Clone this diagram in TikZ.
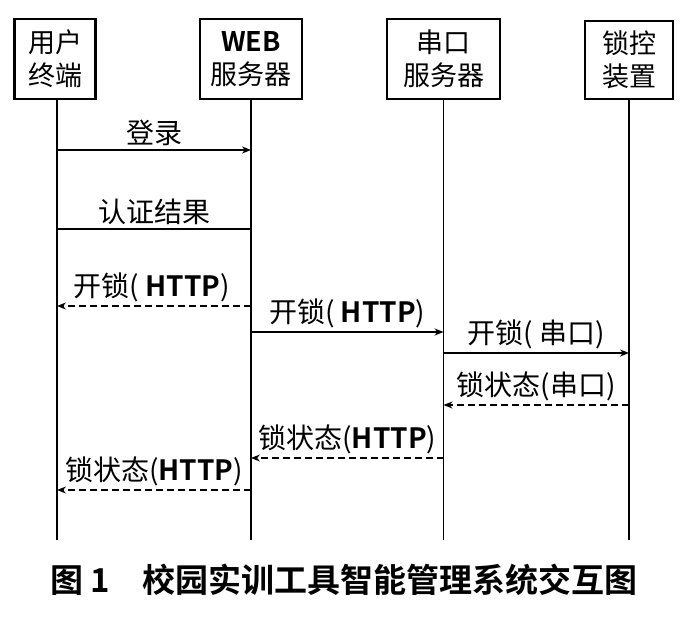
\documentclass[tikz,border=0pt]{standalone}
\usepackage{fontspec}
\setmainfont{Noto Sans CJK SC}[BoldFont={Noto Sans CJK SC Bold}]
\usetikzlibrary{arrows.meta,positioning}

\begin{document}
\begin{tikzpicture}[x=1pt, y=-1pt, >={Stealth[length=9pt,width=7pt]},
  font=\fontsize{28}{34}\selectfont,
  obj/.style={draw, line width=2.2pt, minimum height=80pt, inner sep=1pt, align=center, anchor=north,
    font=\fontsize{27}{33}\selectfont},
  life/.style={line width=2.4pt},
  msg/.style={->, line width=2.4pt},
  thinmsg/.style={->, line width=1.3pt},
  back/.style={->, dashed, dash pattern=on 7pt off 4pt},
  lbl/.style={above=3pt, inner sep=0pt}]
\useasboundingbox (0,0) rectangle (684,617);
% objects
\node[obj, minimum width=81pt] (user) at (55,18) {用户\\终端};
\node[obj, minimum width=102pt] (web) at (251,18) {\textbf{WEB}\\服务器};
\node[obj, minimum width=113pt, line width=1.6pt] (serial) at (443.5,18) {串口\\服务器};
\node[obj, minimum width=88pt, minimum height=78pt] (lock) at (629,20) {锁控\\装置};
% lifelines
\coordinate (bottom) at (0,540);
\draw[life] (user.south -| 57,0) -- (bottom -| 57,0) coordinate (userL);
\draw[life] (web.south) -- (web.south |- bottom);
\draw[line width=1.2pt] (serial.south) -- (serial.south |- bottom);
\draw[line width=2.2pt] (lock.south) -- (lock.south |- bottom);
% message rows
\coordinate (m1) at (0,150);
\coordinate (m2) at (0,229);
\coordinate (m3) at (0,306);
\coordinate (m4) at (0,332);
\coordinate (m5) at (0,353);
\coordinate (m6) at (0,405);
\coordinate (m7) at (0,458);
\coordinate (m8) at (0,490);
% messages
\draw[msg] (userL |- m1) -- node[lbl]{登录} (web.south |- m1);
\draw[line width=2.4pt] (userL |- m2) -- node[lbl]{认证结果} (web.south |- m2);
\draw[back, line width=2.4pt] (web.south |- m3) -- node[lbl, xshift=-2pt]{开锁( \textbf{HTTP})} (userL |- m3);
\draw[thinmsg] (web.south |- m4) -- node[lbl]{开锁( \textbf{HTTP})} (serial.south |- m4);
\draw[thinmsg, line width=1.5pt] (serial.south |- m5) -- node[lbl]{开锁( 串口)} (lock.south |- m5);
\draw[back, line width=1.3pt] (lock.south |- m6) -- node[lbl]{锁状态(串口)} (serial.south |- m6);
\draw[back, line width=1.3pt] (serial.south |- m7) -- node[lbl]{锁状态(\textbf{HTTP})} (web.south |- m7);
\draw[back, line width=2.4pt] (web.south |- m8) -- node[lbl]{锁状态(\textbf{HTTP})} (userL |- m8);
% caption
\node[font=\fontsize{33}{36}\selectfont\bfseries] (caption) at (344,580) {图 1\quad 校园实训工具智能管理系统交互图};
\end{tikzpicture}
\end{document}
